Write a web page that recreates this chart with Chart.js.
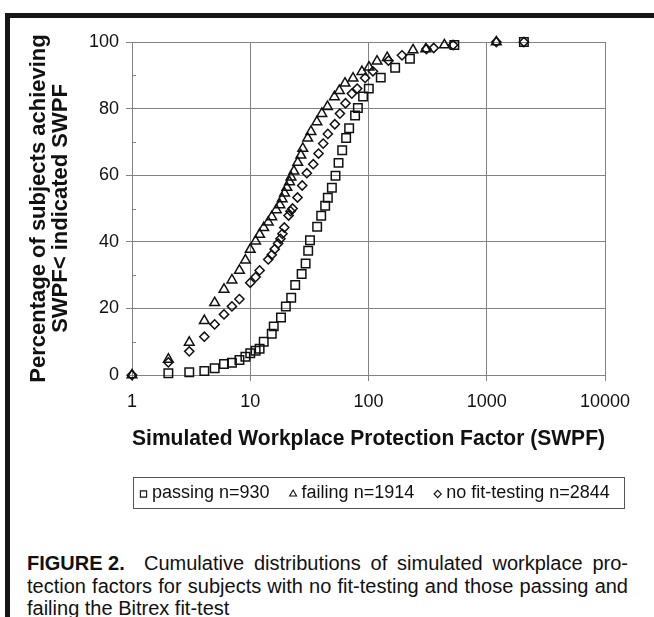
<!DOCTYPE html>
<html>
<head>
<meta charset="utf-8">
<script src="https://cdn.jsdelivr.net/npm/chart.js@4.4.1/dist/chart.umd.min.js"></script>
<style>
  html, body { margin:0; padding:0; background:#fff; }
  body { width:654px; height:617px; position:relative; overflow:hidden; font-family:"Liberation Sans", Arial, sans-serif; }
  .bar { position:absolute; background:#161616; }
  #wrap { position:absolute; left:0; top:0; width:654px; height:520px; }
  .cap { position:absolute; left:27px; font-size:20px; line-height:23px; white-space:nowrap; color:#111; }
  .just { text-align:justify; text-align-last:justify; white-space:normal; }
</style>
</head>
<body>
<div class="bar" style="left:5px;top:13px;width:649px;height:5px;"></div>
<div class="bar" style="left:5px;top:13px;width:5px;height:604px;"></div>
<div id="wrap"><canvas id="c" width="654" height="520"></canvas></div>
<div class="cap" style="top:552px;"><b>FIGURE 2.</b></div>
<div class="cap just" style="top:552px;left:144px;width:484px;">Cumulative distributions of simulated workplace pro-</div>
<div class="cap just" style="top:575px;width:601px;">tection factors for subjects with no fit-testing and those passing and</div>
<div class="cap" style="top:597px;">failing the Bitrex fit-test</div>
<script>
// ---- data ----
const xTickValues = [1, 10, 100, 1000, 10000];
const yMinorTicks = [10, 30, 50, 70, 90];

const seriesLabels = ['passing n=930', 'failing n=1914', 'no fit-testing n=2844'];

const passingX = [2.03,3.05,4.09,5.0,6.0,7.0,8.1,9.1,10.0,11.1,12.0,13.0,15.2,15.8,18.2,20.0,22.2,24.0,27.2,29.4,30.9,32.0,36.8,39.8,43.0,45.3,49.0,52.6,55.8,59.9,64.7,68.6,77.0,81.3,90.0,100.6,127,168,224,532,2061];
const passingY = [0.5,0.8,1.2,2.0,3.3,3.7,4.5,5.5,6.5,7.3,7.9,10.0,12.4,14.6,17.3,20.6,23.2,27.0,30.3,33.5,37.3,40.5,44.5,47.8,50.8,53.2,56.2,59.8,63.7,67.5,71.2,74.1,77.9,80.2,83.6,86.0,89.3,92.3,95.0,99.1,100];

const failingX = [1,2.03,3.05,4.09,5.0,6.0,7.0,8.1,9.1,10.0,11.1,12.0,13.0,14.2,15.2,16.6,17.8,18.6,19.5,20.4,21.5,22.1,23.4,25.2,26.8,27.8,30.6,32.6,36.6,40.3,45.0,51.5,56.7,63.3,74.0,88.0,101,118,144,238,305,438,1205];
const failingY = [0,4.7,9.8,16.3,21.7,25.7,28.5,31.4,34.5,37.7,40.2,42.2,44.2,45.9,47.5,49.6,51.1,52.9,54.6,56.3,58.0,59.4,61.2,63.8,66.0,68.0,71.1,73.1,76.0,78.5,80.6,83.5,85.4,87.6,89.1,91.1,92.4,94.2,95.3,97.6,97.9,99.1,100];

const noFitX = [1,2.03,3.05,4.09,5.0,6.0,7.0,8.1,10.0,11.1,12.0,14.2,15.2,16.1,17.2,18.0,18.7,19.4,21.1,21.9,22.8,25.1,27.5,30.1,34.1,37.8,41.4,45.3,51.9,57.3,63.9,72.3,80.2,93.6,109,147.5,192,309,356,519,1205,2061];
const noFitY = [0,3.8,7.1,11.5,15.2,18.2,20.6,22.8,27.7,29.4,31.4,34.7,36.1,37.8,39.5,40.9,42.4,44.3,47.9,49.2,50.0,53.3,56.9,60.6,63.3,66.5,69.5,72.4,75.3,78.5,81.6,84.5,86.0,89.2,91.2,94.4,96.0,97.9,98.2,99.1,100,100];

const xTitle = 'Simulated Workplace Protection Factor (SWPF)';
const yTitle = ['Percentage of subjects achieving', 'SWPF< indicated SWPF'];

// ---- chart ----
const FONT = '"Liberation Sans", Arial, sans-serif';
const GRID = '#828282';
const toPts = (xs, ys) => xs.map((x, i) => ({x: x, y: ys[i]}));

const markerStyles = [
  {pointStyle: 'rect', radius: 6.0, legendRadius: 4.4},
  {pointStyle: 'triangle', radius: 5.6, legendRadius: 4.0},
  {pointStyle: 'rectRot', radius: 4.6, legendRadius: 3.6}
];
const seriesData = [toPts(passingX, passingY), toPts(failingX, failingY), toPts(noFitX, noFitY)];

const datasets = seriesLabels.map((lab, i) => ({
  label: lab,
  data: seriesData[i],
  showLine: false,
  pointStyle: markerStyles[i].pointStyle,
  pointRadius: markerStyles[i].radius,
  pointHoverRadius: markerStyles[i].radius,
  pointBorderWidth: 1.5,
  borderColor: '#111',
  pointBorderColor: '#111',
  backgroundColor: 'rgba(0,0,0,0)',
  pointBackgroundColor: 'rgba(0,0,0,0)',
  clip: false
}));

const extras = {
  id: 'extras',
  beforeDatasetsDraw(chart) {
    const ctx = chart.ctx, y = chart.scales.y, a = chart.chartArea;
    ctx.save();
    ctx.strokeStyle = GRID; ctx.lineWidth = 1;
    yMinorTicks.forEach(v => {
      const py = Math.round(y.getPixelForValue(v)) + 0.5;
      ctx.beginPath(); ctx.moveTo(a.left, py); ctx.lineTo(a.left + 4, py); ctx.stroke();
    });
    ctx.restore();
  },
  afterDraw(chart) {
    const ctx = chart.ctx;
    ctx.save();
    // legend box
    const bx = 133, by = 477, bw = 491, bh = 31;
    ctx.strokeStyle = '#555'; ctx.lineWidth = 1;
    ctx.strokeRect(bx + 0.5, by + 0.5, bw, bh);
    ctx.font = '18px ' + FONT;
    ctx.textBaseline = 'middle';
    const cy = by + bh / 2 + 0.5;
    let x = 139;
    chart.data.datasets.forEach((ds, i) => {
      const r = markerStyles[i].legendRadius;
      ctx.strokeStyle = '#111'; ctx.lineWidth = 1.1;
      ctx.fillStyle = 'rgba(0,0,0,0)';
      Chart.helpers.drawPoint(ctx, {pointStyle: ds.pointStyle, radius: r, borderWidth: 1.1, rotation: 0}, x + 4.5, cy + 1);
      ctx.fillStyle = '#111';
      ctx.fillText(ds.label, x + 13, cy);
      x += 13 + ctx.measureText(ds.label).width + 19;
    });
    ctx.restore();
  }
};

new Chart(document.getElementById('c'), {
  type: 'scatter',
  data: { datasets: datasets },
  options: {
    responsive: false,
    animation: false,
    devicePixelRatio: 1,
    layout: { padding: { left: 10, right: 49, top: 42, bottom: 0 } },
    plugins: { legend: { display: false }, tooltip: { enabled: false } },
    scales: {
      x: {
        type: 'logarithmic', min: 1, max: 10000,
        afterBuildTicks: s => { s.ticks = xTickValues.map(v => ({ value: v, major: true })); },
        afterFit: s => { s.height = 145; },
        ticks: { callback: v => String(v), font: { size: 18, family: FONT }, color: '#111', padding: 10, maxRotation: 0, autoSkip: false },
        grid: { color: GRID, tickLength: 6, drawTicks: true },
        border: { color: GRID },
        title: { display: true, text: xTitle, color: '#111', font: { size: 22, weight: 'bold', family: FONT }, padding: { top: 0, bottom: 68 } }
      },
      y: {
        type: 'linear', min: 0, max: 100,
        afterFit: s => { s.width = 122; },
        ticks: { stepSize: 20, font: { size: 18, family: FONT }, color: '#111', padding: 7 },
        grid: { color: GRID, tickLength: 6, drawTicks: true },
        border: { color: GRID },
        title: { display: true, text: yTitle, color: '#111', font: { size: 22, weight: 'bold', family: FONT, lineHeight: 1.0 }, padding: { top: 18, bottom: 0 } }
      }
    }
  },
  plugins: [extras]
});
</script>
</body>
</html>
